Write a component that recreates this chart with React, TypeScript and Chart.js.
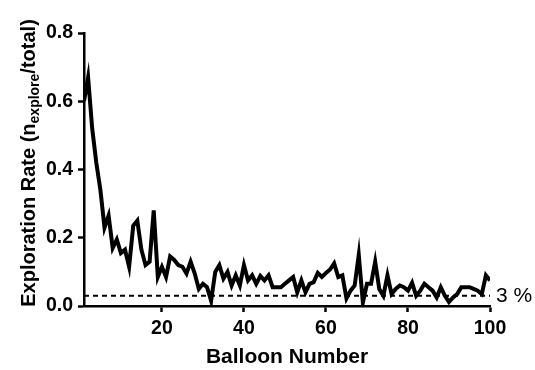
import React, { useEffect, useRef } from "react";
import { Chart, registerables } from "chart.js";

Chart.register(...registerables);

const balloonNumbers: number[] = Array.from({ length: 100 }, (_, i) => i + 1);
const explorationRate: number[] = [
  0.60, 0.67, 0.52, 0.42, 0.34, 0.23, 0.265, 0.17, 0.195, 0.155,
  0.165, 0.115, 0.235, 0.25, 0.165, 0.12, 0.13, 0.28, 0.085, 0.115,
  0.085, 0.145, 0.135, 0.12, 0.115, 0.095, 0.13, 0.095, 0.05, 0.065,
  0.055, 0.015, 0.10, 0.12, 0.08, 0.10, 0.06, 0.09, 0.06, 0.12,
  0.075, 0.09, 0.065, 0.088, 0.075, 0.09, 0.055, 0.055, 0.055, 0.065,
  0.075, 0.085, 0.04, 0.075, 0.04, 0.065, 0.07, 0.097, 0.085, 0.097,
  0.107, 0.125, 0.085, 0.09, 0.022, 0.045, 0.06, 0.15, 0.01, 0.065,
  0.065, 0.13, 0.05, 0.03, 0.09, 0.035, 0.05, 0.06, 0.055, 0.045,
  0.068, 0.03, 0.045, 0.065, 0.055, 0.045, 0.025, 0.055, 0.03, 0.012,
  0.025, 0.035, 0.055, 0.055, 0.055, 0.05, 0.045, 0.035, 0.09, 0.075,
];
const thresholdValue = 0.03;
const thresholdLabel = "3 %";
const xTicks: number[] = [20, 40, 60, 80, 100];
const yTicks: number[] = [0, 0.2, 0.4, 0.6, 0.8];
const xTitle = "Balloon Number";

const FONT = "'Liberation Sans', Arial, sans-serif";

const titlePlugin = {
  id: "customTitles",
  afterDraw(chart: any) {
    const ctx = chart.ctx as CanvasRenderingContext2D;
    const area = chart.chartArea;
    const xs = chart.scales.x;
    const ys = chart.scales.y;
    ctx.save();
    ctx.fillStyle = "#000";
    // x title
    ctx.font = `bold 21px ${FONT}`;
    ctx.textAlign = "center";
    ctx.textBaseline = "middle";
    ctx.fillText(xTitle, 287, 357);
    // y title with subscript
    const big = `bold 20px ${FONT}`;
    const small = `bold 14px ${FONT}`;
    const parts = [
      { t: "Exploration Rate (n", f: big, dy: 0 },
      { t: "explore", f: small, dy: 6 },
      { t: "/total)", f: big, dy: 0 },
    ];
    let total = 0;
    parts.forEach((p) => {
      ctx.font = p.f;
      total += ctx.measureText(p.t).width;
    });
    ctx.translate(29, 163);
    ctx.rotate(-Math.PI / 2);
    ctx.textAlign = "left";
    ctx.textBaseline = "middle";
    let x = -total / 2;
    parts.forEach((p) => {
      ctx.font = p.f;
      ctx.fillText(p.t, x, p.dy);
      x += ctx.measureText(p.t).width;
    });
    ctx.restore();
    // threshold label
    ctx.save();
    ctx.fillStyle = "#000";
    ctx.font = `21px ${FONT}`;
    ctx.textAlign = "left";
    ctx.textBaseline = "middle";
    ctx.fillText(thresholdLabel, xs.right + 6, ys.getPixelForValue(thresholdValue));
    ctx.restore();
  },
};

export default function App() {
  const ref = useRef<HTMLCanvasElement | null>(null);
  useEffect(() => {
    document.body.style.margin = "0";
    if (!ref.current) return;
    const chart = new Chart(ref.current, {
      type: "line",
      data: {
        datasets: [
          {
            data: balloonNumbers.map((n, i) => ({ x: n, y: explorationRate[i] })),
            borderColor: "#000",
            borderWidth: 4,
            pointRadius: 0,
            tension: 0,
            borderJoinStyle: "miter",
            fill: false,
          },
          {
            data: [
              { x: balloonNumbers[0], y: thresholdValue },
              { x: balloonNumbers[balloonNumbers.length - 1], y: thresholdValue },
            ],
            borderColor: "#000",
            borderWidth: 2,
            borderDash: [5, 4],
            pointRadius: 0,
            fill: false,
          },
        ],
      },
      options: {
        animation: false,
        responsive: false,
        maintainAspectRatio: false,
        layout: { padding: { top: 33, right: 45, left: 0, bottom: 0 } },
        plugins: { legend: { display: false }, tooltip: { enabled: false }, title: { display: false } },
        scales: {
          x: {
            type: "linear",
            min: 1,
            max: 100,
            afterBuildTicks: (s: any) => {
              s.ticks = xTicks.map((v) => ({ value: v }));
            },
            afterFit: (s: any) => {
              s.height = 64;
            },
            grid: {
              drawOnChartArea: false,
              drawTicks: true,
              tickLength: 6,
              tickColor: "#000",
              tickWidth: 2.5,
            },
            border: { display: true, color: "#000", width: 2.5 },
            ticks: {
              color: "#000",
              font: { family: FONT, size: 19.5, weight: "bold" },
              padding: 5,
              maxRotation: 0,
            },
          },
          y: {
            type: "linear",
            min: 0,
            max: 0.8,
            afterBuildTicks: (s: any) => {
              s.ticks = yTicks.map((v) => ({ value: v }));
            },
            afterFit: (s: any) => {
              s.width = 84;
            },
            grid: {
              drawOnChartArea: false,
              drawTicks: true,
              tickLength: 6,
              tickColor: "#000",
              tickWidth: 2.5,
            },
            border: { display: true, color: "#000", width: 2.5 },
            ticks: {
              color: "#000",
              font: { family: FONT, size: 19.5, weight: "bold" },
              padding: 5,
              callback: (v: any) => Number(v).toFixed(1),
            },
          },
        },
      },
      plugins: [titlePlugin],
    } as any);
    return () => chart.destroy();
  }, []);
  return (
    <div style={{ width: 535, height: 370 }}>
      <canvas ref={ref} width={535} height={370} style={{ display: "block" }} />
    </div>
  );
}
